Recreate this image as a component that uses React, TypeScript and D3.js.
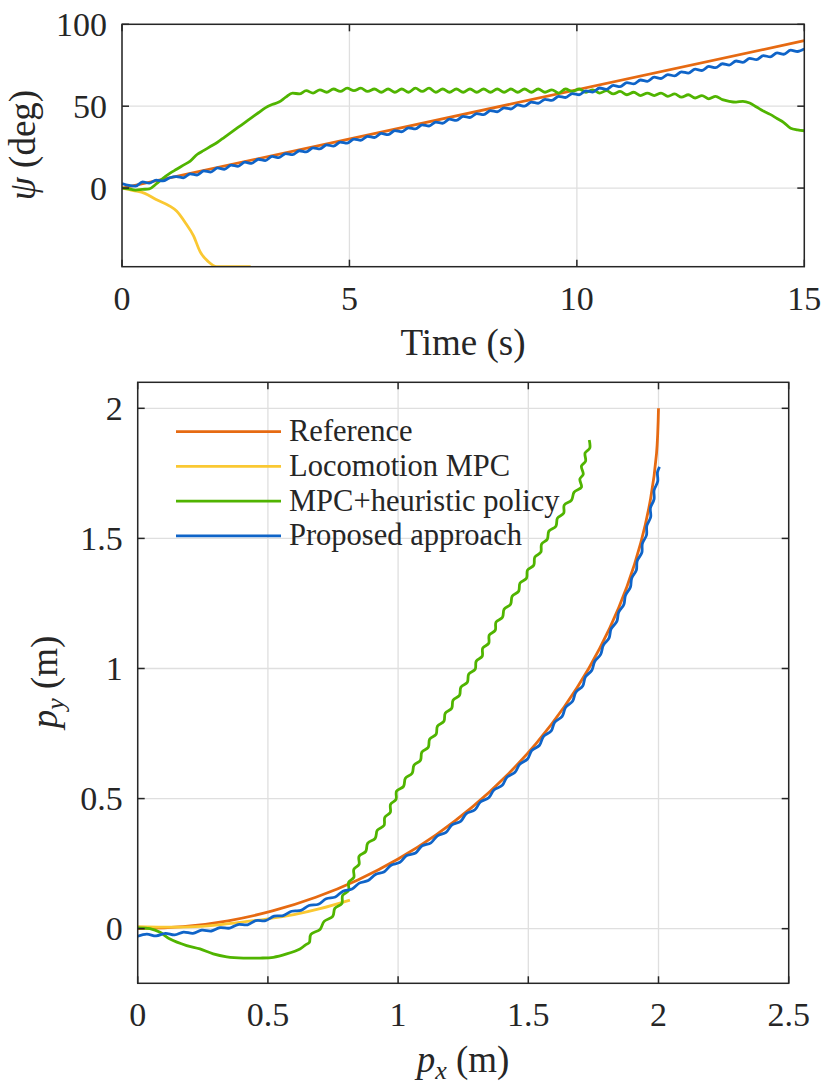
import * as d3 from "d3";

// ---------- top panel: heading psi (deg) vs time (s) ----------
const tStep = 0.15; // sample period of the logged heading series

const psiReference = [[0, 0], [15, 90]];

const psiLocomotion = [
  [0, 0], [0.25, -1.5], [0.5, -3.2], [0.75, -7], [1.05, -11], [1.2, -14],
  [1.4, -21.5], [1.57, -29], [1.72, -39], [1.9, -45], [2.08, -48], [2.83, -48],
];

const psiHeuristic = [
  0, -0.5, -1.2, -0.8, -0.5, 2.5, 6, 9, 11.5, 14, 16.5, 20.5, 23, 25.5, 28, 31, 34, 37, 40, 43,
  46, 49, 51, 52.5, 55.5, 58, 57.5, 59.5, 58, 60, 58.5, 60.5, 59, 61, 59.5, 61, 59, 60.5, 58.5, 60.5,
  58.5, 60.5, 58.5, 61, 59, 61, 58.5, 60.5, 58.5, 60.5, 58.5, 60.5, 58.5, 60.5, 58.5, 60.5, 58.5, 60.5, 58.5, 60.5,
  58.5, 60.5, 58.5, 60, 58, 60.5, 59, 60.5, 58.5, 60, 58, 59.5, 57.5, 59, 57, 58.5, 56.5, 58, 56.5, 58,
  56, 57.5, 55.5, 57, 55, 56.5, 54.5, 56, 54, 53, 52.5, 53, 52, 49.5, 47, 45, 42.5, 40, 36.5, 35.5,
  35,
];

const psiProposed = [
  2.8, 1.6, 1.2, 3.8, 3.0, 4.8, 4.4, 6.3, 7.0, 6.3, 8.7, 8.0, 10.5, 9.8, 12.3, 11.5, 14.0, 13.3, 15.8, 15.1,
  17.6, 16.8, 19.3, 18.6, 21.1, 20.4, 22.8, 22.1, 24.6, 23.9, 26.4, 25.6, 28.1, 27.4, 29.9, 29.2, 31.6, 30.9, 33.4, 32.6,
  35.1, 34.4, 36.8, 36.1, 38.6, 37.9, 40.3, 39.6, 42.1, 41.3, 43.8, 43.1, 45.5, 44.8, 47.3, 46.6, 49.0, 48.3, 50.8, 50.0,
  52.5, 51.8, 54.2, 53.5, 56.0, 55.3, 57.7, 57.0, 59.4, 58.6, 61.1, 60.3, 62.7, 61.9, 64.4, 63.6, 66.0, 65.2, 67.7, 66.9,
  69.3, 68.5, 71.0, 70.2, 72.6, 71.8, 74.3, 73.5, 75.9, 75.1, 77.6, 76.8, 79.2, 78.4, 80.9, 80.1, 82.5, 81.7, 84.2, 83.4,
  85.0,
];

// ---------- bottom panel: position py vs px (m) ----------
const xyReference = [
  [0, 0], [0.1743, 0.0076], [0.3473, 0.0304], [0.5176, 0.0681], [0.684, 0.1206], [0.8452, 0.1874],
  [1.0, 0.2679], [1.1472, 0.3617], [1.2856, 0.4679], [1.4142, 0.5858], [1.5321, 0.7144], [1.6383, 0.8528],
  [1.7321, 1.0], [1.8126, 1.1548], [1.8794, 1.316], [1.9319, 1.4824], [1.9696, 1.6527], [1.9924, 1.8257], [2.0, 2.0],
];

const xyLocomotion = [
  [0, 0.008], [0.1, 0.006], [0.2, 0.007], [0.3, 0.014], [0.4, 0.025], [0.5, 0.038],
  [0.6, 0.054], [0.7, 0.077], [0.815, 0.11],
];

const xyHeuristic = [
  [0, 0.003], [0.047, 0.0], [0.086, -0.014], [0.124, -0.04], [0.188, -0.065], [0.239, -0.078],
  [0.29, -0.097], [0.342, -0.108], [0.406, -0.113], [0.47, -0.113], [0.521, -0.11], [0.572, -0.097],
  [0.623, -0.078], [0.645, -0.062],
  [0.659, -0.053], [0.665, -0.022], [0.7, -0.003], [0.716, 0.028], [0.749, 0.047], [0.757, 0.078],
  [0.784, 0.097], [0.787, 0.128], [0.81, 0.147], [0.81, 0.178], [0.83, 0.197], [0.83, 0.228],
  [0.85, 0.247], [0.85, 0.278], [0.876, 0.297], [0.883, 0.328], [0.912, 0.347], [0.92, 0.378],
  [0.946, 0.397], [0.949, 0.428], [0.97, 0.447], [0.971, 0.478], [0.992, 0.497], [0.994, 0.528],
  [1.021, 0.547], [1.028, 0.578], [1.054, 0.597], [1.061, 0.628], [1.086, 0.647], [1.091, 0.678],
  [1.116, 0.697], [1.121, 0.728], [1.146, 0.747], [1.151, 0.778], [1.176, 0.797], [1.181, 0.828],
  [1.206, 0.847], [1.211, 0.878], [1.236, 0.897], [1.241, 0.928], [1.266, 0.947], [1.271, 0.978],
  [1.296, 0.997], [1.3, 1.028], [1.323, 1.047], [1.325, 1.078], [1.348, 1.097], [1.35, 1.128],
  [1.373, 1.147], [1.376, 1.178], [1.401, 1.197], [1.407, 1.228], [1.432, 1.247], [1.438, 1.278],
  [1.463, 1.297], [1.468, 1.328], [1.493, 1.347], [1.497, 1.378], [1.521, 1.397], [1.525, 1.428],
  [1.548, 1.447], [1.551, 1.478], [1.573, 1.497], [1.579, 1.528], [1.606, 1.547], [1.612, 1.578],
  [1.636, 1.597], [1.638, 1.628], [1.666, 1.647], [1.676, 1.678], [1.704, 1.697], [1.698, 1.728],
  [1.711, 1.747], [1.704, 1.778], [1.72, 1.797], [1.718, 1.828], [1.736, 1.847], [1.734, 1.878],
];

const xyProposed = [
  [0, -0.029], [0.035, -0.021], [0.071, -0.028], [0.106, -0.018], [0.142, -0.024], [0.176, -0.013],
  [0.212, -0.018], [0.246, -0.006], [0.283, -0.009], [0.316, 0.004], [0.353, 0.002], [0.385, 0.016],
  [0.422, 0.015], [0.454, 0.031], [0.491, 0.031], [0.524, 0.048], [0.559, 0.05], [0.591, 0.067],
  [0.627, 0.07], [0.658, 0.089], [0.694, 0.094], [0.724, 0.115], [0.759, 0.122], [0.788, 0.144],
  [0.823, 0.152], [0.851, 0.175], [0.885, 0.185], [0.913, 0.208], [0.947, 0.219], [0.973, 0.244],
  [1.007, 0.255], [1.033, 0.281], [1.067, 0.291], [1.092, 0.318], [1.126, 0.33], [1.151, 0.357],
  [1.184, 0.37], [1.207, 0.399], [1.24, 0.412], [1.262, 0.442], [1.295, 0.457], [1.316, 0.487],
  [1.348, 0.503], [1.368, 0.533], [1.4, 0.551], [1.418, 0.582], [1.449, 0.601], [1.467, 0.632],
  [1.497, 0.652], [1.513, 0.684], [1.543, 0.705], [1.558, 0.738], [1.588, 0.76], [1.601, 0.793],
  [1.63, 0.816], [1.643, 0.85], [1.67, 0.874], [1.682, 0.908], [1.709, 0.933], [1.719, 0.967],
  [1.744, 0.993], [1.755, 1.027], [1.778, 1.054], [1.788, 1.089], [1.81, 1.117], [1.818, 1.152],
  [1.84, 1.181], [1.847, 1.216], [1.867, 1.246], [1.873, 1.281], [1.892, 1.312], [1.897, 1.347],
  [1.915, 1.378], [1.918, 1.413], [1.936, 1.445], [1.938, 1.48], [1.954, 1.513], [1.955, 1.548],
  [1.97, 1.582], [1.969, 1.617], [1.983, 1.651], [1.983, 1.685], [1.997, 1.72], [1.996, 1.754],
  [2.004, 1.775],
];

const seriesNames = ["Reference", "Locomotion MPC", "MPC+heuristic policy", "Proposed approach"];

const timeTicks = [0, 5, 10, 15];
const psiTicks = [0, 50, 100];
const pxTicks = [0, 0.5, 1, 1.5, 2, 2.5];
const pyTicks = [0, 0.5, 1, 1.5, 2];

// ---------- styles ----------
const COLORS = ["#e66a12", "#fac832", "#50b400", "#0f64c8"];
const FONT = "Liberation Serif, DejaVu Serif, serif";
const INK = "#262626";
const GRID = "#dfdfdf";
const LW = 2.8;
const TICK_FS = 34;
const LABEL_FS = 37;

const fmt = d3.format("~g");

type Pt = number[];

function Axes({ x, y, xTicks, yTicks, clipId, children }: any) {
  const [x0, x1] = x.range();
  const [yb, yt] = y.range();
  const tl = 7;
  return (
    <g>
      <defs>
        <clipPath id={clipId}>
          <rect x={x0} y={yt} width={x1 - x0} height={yb - yt} />
        </clipPath>
      </defs>
      <rect x={x0} y={yt} width={x1 - x0} height={yb - yt} fill="#fff" />
      {xTicks.map((v: number) => (
        <line key={"gx" + v} x1={x(v)} x2={x(v)} y1={yt} y2={yb} stroke={GRID} strokeWidth={1.3} />
      ))}
      {yTicks.map((v: number) => (
        <line key={"gy" + v} x1={x0} x2={x1} y1={y(v)} y2={y(v)} stroke={GRID} strokeWidth={1.3} />
      ))}
      <g clipPath={`url(#${clipId})`}>{children}</g>
      <rect x={x0} y={yt} width={x1 - x0} height={yb - yt} fill="none" stroke={INK} strokeWidth={1.5} />
      {xTicks.map((v: number) => (
        <g key={"tx" + v}>
          <line x1={x(v)} x2={x(v)} y1={yb} y2={yb - tl} stroke={INK} strokeWidth={1.5} />
          <line x1={x(v)} x2={x(v)} y1={yt} y2={yt + tl} stroke={INK} strokeWidth={1.5} />
          <text x={x(v)} y={yb + 43} textAnchor="middle" fontSize={TICK_FS} fill={INK}>
            {fmt(v)}
          </text>
        </g>
      ))}
      {yTicks.map((v: number) => (
        <g key={"ty" + v}>
          <line x1={x0} x2={x0 + tl} y1={y(v)} y2={y(v)} stroke={INK} strokeWidth={1.5} />
          <line x1={x1} x2={x1 - tl} y1={y(v)} y2={y(v)} stroke={INK} strokeWidth={1.5} />
          <text x={x0 - 15} y={y(v) + 11.5} textAnchor="end" fontSize={TICK_FS} fill={INK}>
            {fmt(v)}
          </text>
        </g>
      ))}
    </g>
  );
}

export default function App() {
  // top panel scales
  const xT = d3.scaleLinear().domain([0, 15]).range([122, 804.3]);
  const yT = d3.scaleLinear().domain([-48, 100]).range([266.7, 24.3]);
  // bottom panel scales
  const xB = d3.scaleLinear().domain([0, 2.5]).range([137.7, 788.7]);
  const yB = d3.scaleLinear().domain([-0.21, 2.1]).range([983.3, 382.3]);

  const lineT = d3
    .line<Pt>()
    .x((d) => xT(d[0]))
    .y((d) => yT(d[1]))
    .curve(d3.curveMonotoneX);
  const lineB = d3
    .line<Pt>()
    .x((d) => xB(d[0]))
    .y((d) => yB(d[1]))
    .curve(d3.curveCatmullRom);

  const sampled = (vals: number[]) => vals.map((v, i) => [i * tStep, v]);
  const topSeries = [psiReference, psiLocomotion, sampled(psiHeuristic), sampled(psiProposed)];
  const botSeries = [xyReference, xyLocomotion, xyHeuristic, xyProposed];

  const legX = 176;
  const legY = 431.7;
  const legGap = 34.7;

  return (
    <div style={{ position: "absolute", left: 0, top: 0 }}>
      <svg width={830} height={1092} style={{ display: "block", background: "#fff", fontFamily: FONT }}>
        <Axes x={xT} y={yT} xTicks={timeTicks} yTicks={psiTicks} clipId="clipTop">
          {topSeries.map((s, i) => (
            <path key={i} d={lineT(s as Pt[]) || ""} fill="none" stroke={COLORS[i]} strokeWidth={LW} strokeLinejoin="round" />
          ))}
        </Axes>
        <text x={463} y={355} textAnchor="middle" fontSize={LABEL_FS} fill={INK}>
          Time (s)
        </text>
        <text transform="translate(35,145) rotate(-90)" textAnchor="middle" fontSize={LABEL_FS} fill={INK}>
          <tspan fontStyle="italic">ψ</tspan> (deg)
        </text>

        <Axes x={xB} y={yB} xTicks={pxTicks} yTicks={pyTicks} clipId="clipBot">
          {botSeries.map((s, i) => (
            <path key={i} d={lineB(s as Pt[]) || ""} fill="none" stroke={COLORS[i]} strokeWidth={LW} strokeLinejoin="round" />
          ))}
        </Axes>
        <text x={463} y={1072} textAnchor="middle" fontSize={LABEL_FS} fill={INK}>
          <tspan fontStyle="italic">p</tspan>
          <tspan fontStyle="italic" fontSize={26} dy={7}>x</tspan>
          <tspan dy={-7}> (m)</tspan>
        </text>
        <text transform="translate(57,682) rotate(-90)" textAnchor="middle" fontSize={LABEL_FS} fill={INK}>
          <tspan fontStyle="italic">p</tspan>
          <tspan fontStyle="italic" fontSize={26} dy={7}>y</tspan>
          <tspan dy={-7}> (m)</tspan>
        </text>

        {seriesNames.map((name, i) => (
          <g key={name}>
            <line x1={legX} x2={legX + 105} y1={legY + i * legGap} y2={legY + i * legGap} stroke={COLORS[i]} strokeWidth={LW} />
            <text x={legX + 113} y={legY + i * legGap + 9.5} fontSize={30.5} fill={INK}>
              {name}
            </text>
          </g>
        ))}
      </svg>
    </div>
  );
}
